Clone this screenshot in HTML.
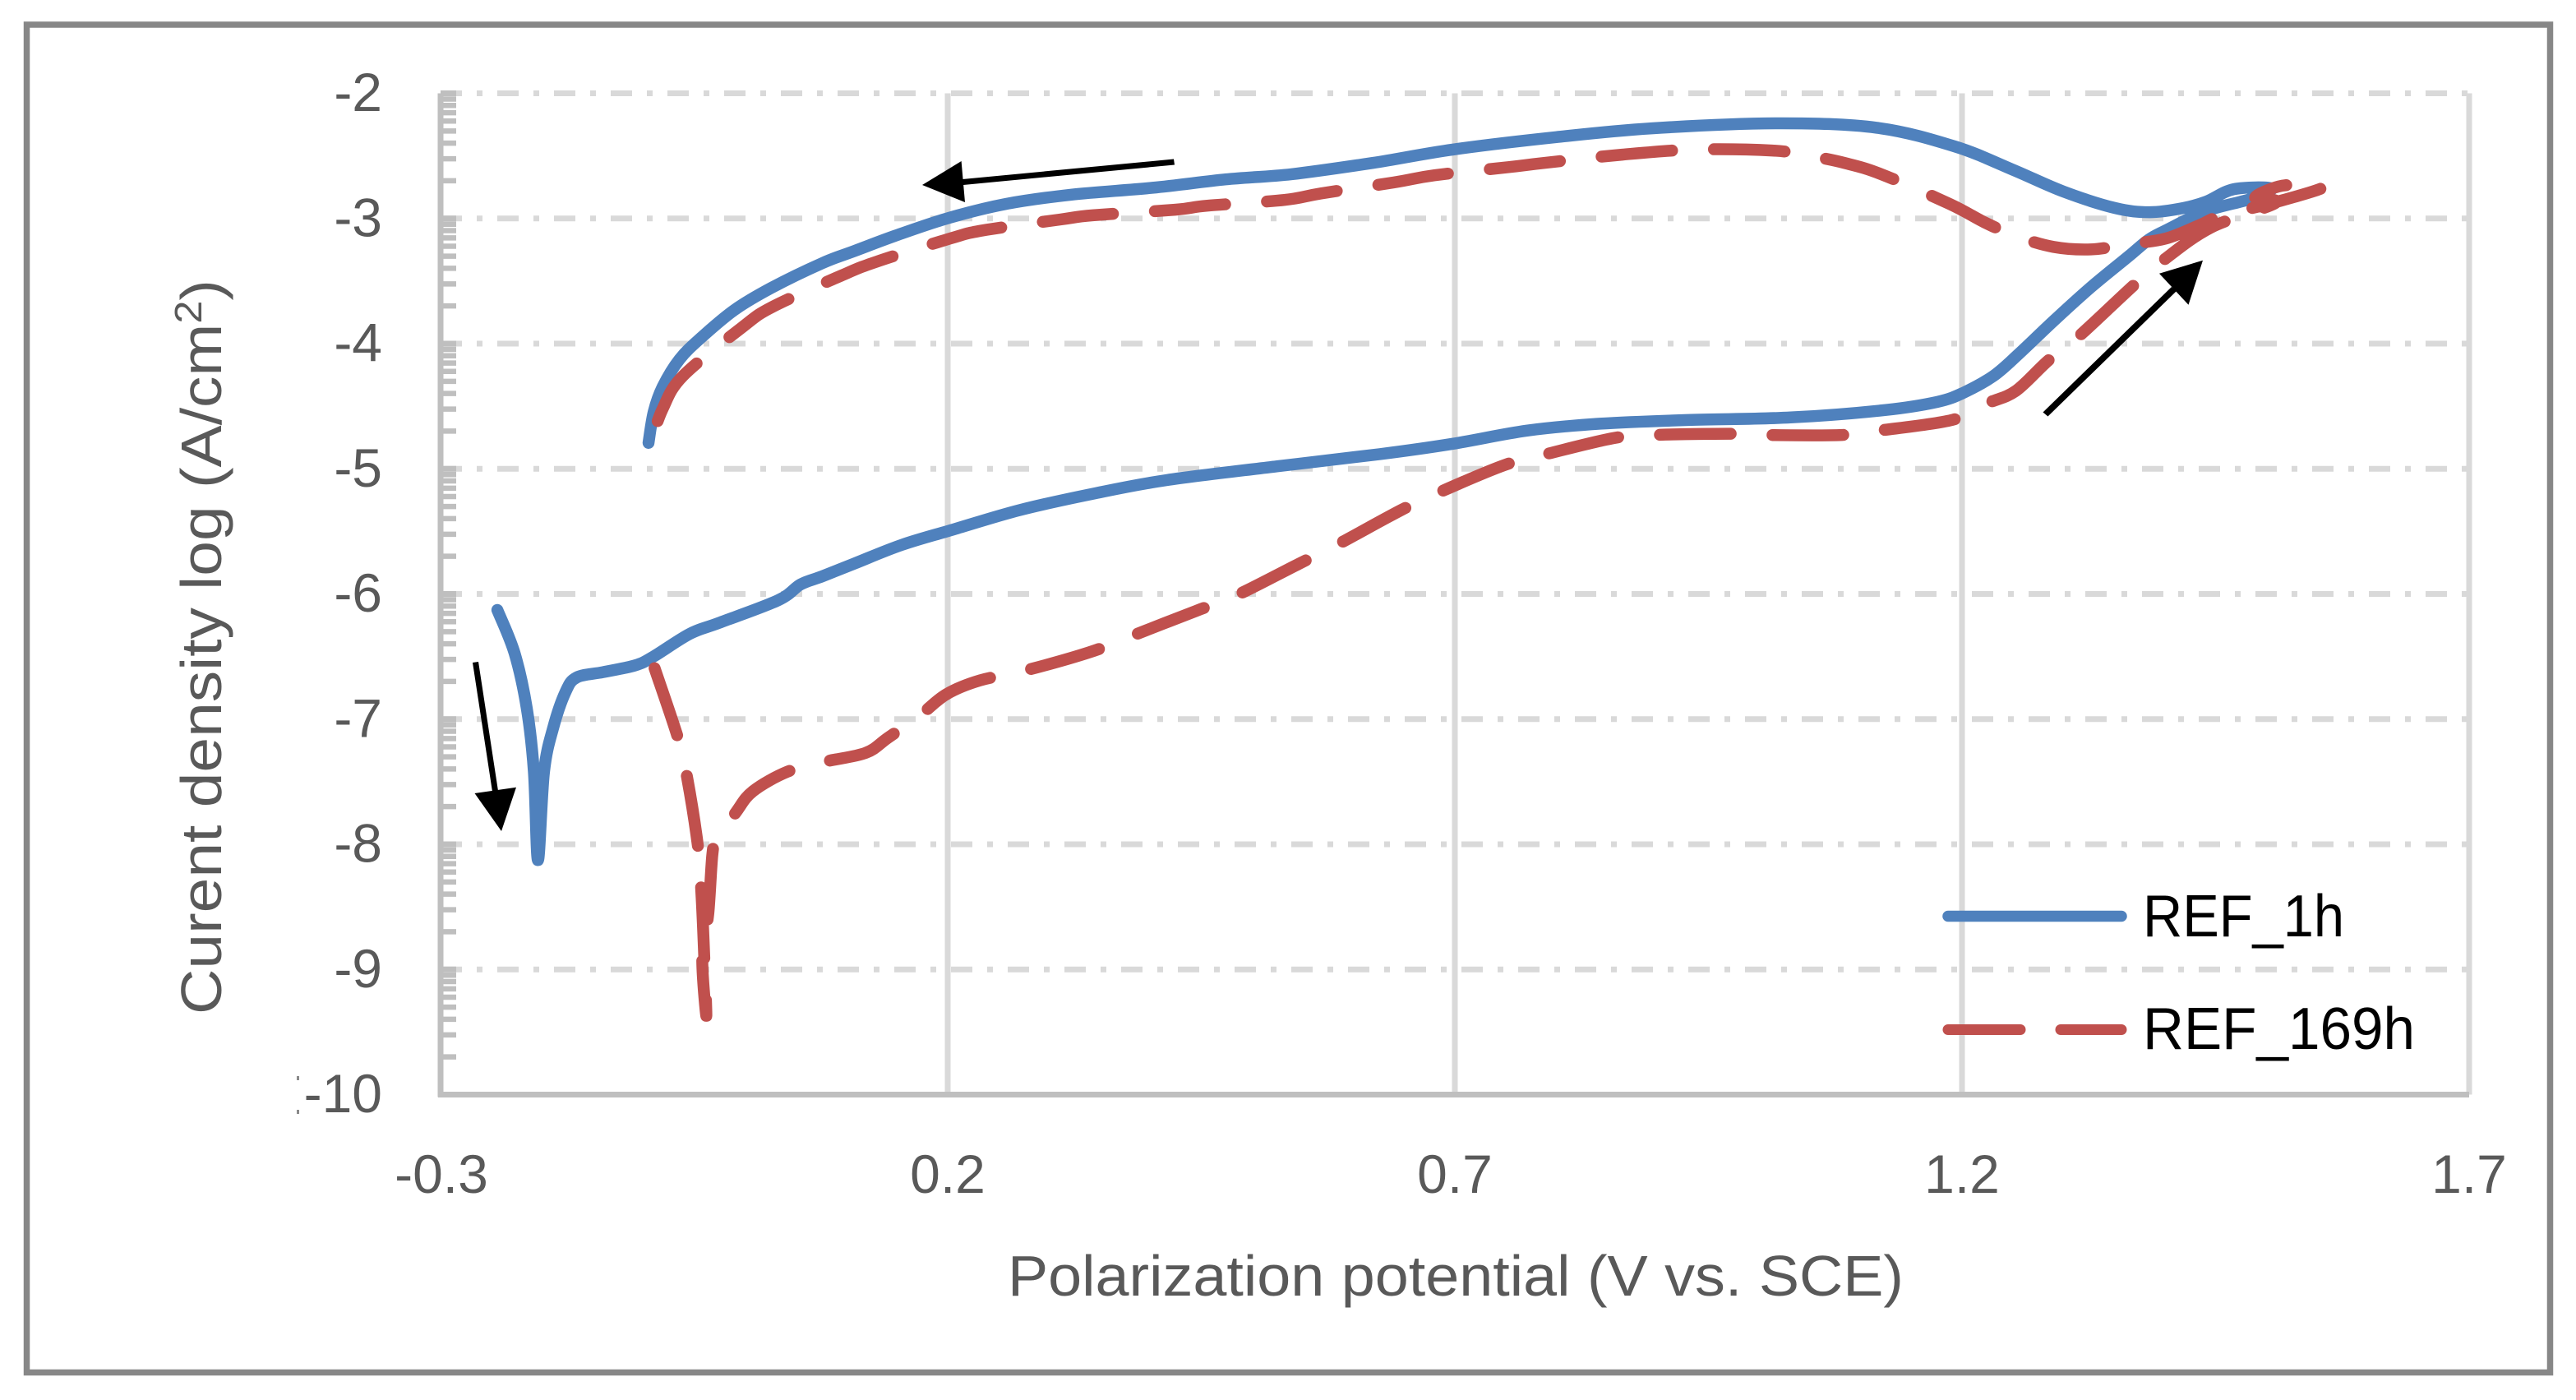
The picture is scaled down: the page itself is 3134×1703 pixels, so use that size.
<!DOCTYPE html>
<html lang="en">
<head>
<meta charset="utf-8">
<title>Polarization curves</title>
<style>
html,body{margin:0;padding:0;background:#fff;width:3134px;height:1703px;overflow:hidden}
svg{display:block}
text{font-family:"Liberation Sans",sans-serif}
</style>
</head>
<body>
<svg id="chart" xmlns="http://www.w3.org/2000/svg" width="3134" height="1703" viewBox="0 0 3134 1703">
  <rect x="0" y="0" width="3134" height="1703" fill="#ffffff"/>
  <rect x="32.5" y="30" width="3070" height="1639.5" fill="#ffffff" stroke="#878787" stroke-width="7.5"/>
  <g id="grid"></g>
  <g id="axes"></g>
  <g id="series"></g>
  <g fill="#000000" stroke="none">
    <g>
      <polygon points="1428,193.5 1429,200.5 1172,225 1171,218"/>
      <polygon points="1122,225 1169.6,196 1174,246"/>
    </g>
    <g>
      <polygon points="575,806 582,805 606,962 599,963"/>
      <polygon points="610,1011 577.5,965 628,957.7"/>
    </g>
    <g>
      <polygon points="2485.5,501.5 2491.5,506.5 2648,354 2642,349"/>
      <polygon points="2680,316.7 2627,332.7 2662.5,370.7"/>
    </g>
  </g>
  <text x="1226" y="1576" font-size="70" fill="#595959" textLength="1090" lengthAdjust="spacingAndGlyphs">Polarization potential (V vs. SCE)</text>
  <text transform="translate(269,1234) rotate(-90)" font-size="70" fill="#595959" textLength="894" lengthAdjust="spacingAndGlyphs">Curent density log (A/cm<tspan font-size="46" dy="-24">2</tspan><tspan dy="24">)</tspan></text>
  <g>
    <line x1="2370" y1="1114.5" x2="2581" y2="1114.5" stroke="#4f81bd" stroke-width="13.5" stroke-linecap="round"/>
    <text x="2607" y="1139" font-size="72" fill="#000000" textLength="245" lengthAdjust="spacingAndGlyphs">REF_1h</text>
    <line x1="2370" y1="1252.5" x2="2458" y2="1252.5" stroke="#c0504d" stroke-width="13" stroke-linecap="round"/>
    <line x1="2507" y1="1252.5" x2="2581" y2="1252.5" stroke="#c0504d" stroke-width="13" stroke-linecap="round"/>
    <text x="2607" y="1276" font-size="72" fill="#000000" textLength="331" lengthAdjust="spacingAndGlyphs">REF_169h</text>
  </g>
  <g fill="#8a8a8a">
    <rect x="361" y="1309" width="3" height="5"/>
    <rect x="361" y="1350" width="3" height="5"/>
  </g>
</svg>
<script>
const xTickValues = [-0.3, 0.2, 0.7, 1.2, 1.7];
const xTickLabels = ["-0.3", "0.2", "0.7", "1.2", "1.7"];
const yTickValues = [-2, -3, -4, -5, -6, -7, -8, -9, -10];
const yTickLabels = ["-2", "-3", "-4", "-5", "-6", "-7", "-8", "-9", "-10"];
const minorTickMultipliers = [2, 3, 4, 5, 6, 7, 8, 9];

const ref1hPotential = [-0.244,-0.227,-0.215,-0.208,-0.204,-0.198,-0.189,-0.177,-0.166,-0.14,-0.108,-0.09,-0.054,-0.025,0.033,0.055,0.076,0.108,0.155,0.206,0.271,0.343,0.416,0.525,0.626,0.698,0.771,0.843,0.93,1.031,1.125,1.176,1.202,1.231,1.256,1.292,1.328,1.364,1.384,1.401,1.441,1.485,1.505,1.468,1.441,1.418,1.385,1.351,1.3,1.25,1.193,1.116,1.017,0.894,0.80,0.698,0.619,0.539,0.474,0.402,0.322,0.2567,0.2005,0.148,0.108,0.076,0.0258,-0.0102,-0.0428,-0.0645,-0.081,-0.0898,-0.095];
const ref1hLogCurrent = [-6.128,-6.474,-6.914,-7.418,-8.126,-7.418,-7.07,-6.786,-6.668,-6.625,-6.57,-6.5,-6.317,-6.23,-6.05,-5.924,-5.86,-5.757,-5.607,-5.484,-5.33,-5.2,-5.09,-4.98,-4.883,-4.8,-4.695,-4.64,-4.61,-4.59,-4.53,-4.465,-4.39,-4.258,-4.082,-3.806,-3.543,-3.304,-3.17,-3.095,-2.94,-2.843,-2.76,-2.766,-2.865,-2.917,-2.95,-2.917,-2.785,-2.61,-2.425,-2.275,-2.24,-2.28,-2.35,-2.449,-2.556,-2.646,-2.688,-2.755,-2.81,-2.885,-2.997,-3.139,-3.26,-3.358,-3.556,-3.731,-3.95,-4.126,-4.345,-4.543,-4.793];

const ref169hPotential = [-0.089,-0.066,-0.057,-0.046,-0.043,-0.04,-0.038,-0.042,-0.036,-0.032,-0.028,-0.0084,0.008,0.042,0.079,0.119,0.141,0.174,0.199,0.232,0.275,0.34,0.38,0.445,0.485,0.546,0.582,0.647,0.684,0.749,0.789,0.857,0.897,0.97,1.005,1.082,1.118,1.19,1.225,1.253,1.285,1.314,1.369,1.398,1.445,1.509,1.489,1.512,1.535,1.556,1.509,1.455,1.435,1.401,1.364,1.327,1.29,1.253,1.222,1.188,1.121,1.084,1.048,1.013,0.937,0.865,0.788,0.753,0.68,0.64,0.568,0.532,0.456,0.424,0.343,0.311,0.235,0.2025,0.13,0.095,0.027,-0.003,-0.061,-0.081,-0.093];
const ref169hLogCurrent = [-6.593,-7.15,-7.464,-8.03,-8.36,-8.9,-9.37,-8.9,-8.55,-8.08,-7.98,-7.74,-7.576,-7.42,-7.34,-7.27,-7.15,-6.96,-6.8,-6.69,-6.615,-6.465,-6.34,-6.135,-6.01,-5.76,-5.615,-5.33,-5.19,-4.97,-4.885,-4.754,-4.73,-4.72,-4.73,-4.73,-4.695,-4.61,-4.477,-4.378,-4.135,-3.95,-3.536,-3.337,-3.074,-2.876,-2.832,-2.745,-2.733,-2.753,-2.87,-2.98,-3.05,-3.16,-3.205,-3.247,-3.227,-3.14,-3.03,-2.885,-2.648,-2.556,-2.497,-2.457,-2.449,-2.49,-2.556,-2.59,-2.655,-2.712,-2.8,-2.852,-2.898,-2.93,-2.975,-3.008,-3.095,-3.16,-3.345,-3.457,-3.707,-3.872,-4.258,-4.521,-4.793];

const SVGNS = "http://www.w3.org/2000/svg";
const plot = { left: 536, right: 3004, top: 113.5, bottom: 1331.5 };
function xScale(v) { return plot.left + (v - (-0.3)) / 2.0 * (plot.right - plot.left); }
function yScale(v) { return plot.top + (-2 - v) / 8 * (plot.bottom - plot.top); }

function make(tag, attrs, parent) {
  const el = document.createElementNS(SVGNS, tag);
  for (const k in attrs) el.setAttribute(k, attrs[k]);
  parent.appendChild(el);
  return el;
}

function smoothPath(xs, ys) {
  const p = xs.map((x, i) => [xScale(x), yScale(ys[i])]);
  let d = "M" + p[0][0].toFixed(1) + " " + p[0][1].toFixed(1);
  for (let i = 0; i < p.length - 1; i++) {
    const a = p[Math.max(i - 1, 0)], b = p[i], c = p[i + 1], e = p[Math.min(i + 2, p.length - 1)];
    const c1x = b[0] + (c[0] - a[0]) / 6, c1y = b[1] + (c[1] - a[1]) / 6;
    const c2x = c[0] - (e[0] - b[0]) / 6, c2y = c[1] - (e[1] - b[1]) / 6;
    d += "C" + c1x.toFixed(1) + " " + c1y.toFixed(1) + " " + c2x.toFixed(1) + " " + c2y.toFixed(1) + " " + c[0].toFixed(1) + " " + c[1].toFixed(1);
  }
  return d;
}

const gridG = document.getElementById("grid");
const axesG = document.getElementById("axes");
const seriesG = document.getElementById("series");

yTickValues.forEach(function (v) {
  if (v === -10) return;
  const l = make("line", { x1: plot.left, x2: plot.right, y1: yScale(v), y2: yScale(v), stroke: "#d9d9d9", "stroke-width": 7, "stroke-dasharray": "26 18 7 18" }, gridG);
  
  
});
xTickValues.forEach(function (v) {
  if (v === -0.3) return;
  const l = make("line", { x1: xScale(v), x2: xScale(v), y1: plot.top, y2: plot.bottom, stroke: "#d9d9d9", "stroke-width": 7 }, gridG);
  
  
});

const yAxisLine = make("line", { x1: plot.left, x2: plot.left, y1: plot.top, y2: plot.bottom + 3, stroke: "#bfbfbf", "stroke-width": 7 }, axesG);


const xAxisLine = make("line", { x1: plot.left - 3, x2: plot.right, y1: plot.bottom, y2: plot.bottom, stroke: "#bfbfbf", "stroke-width": 7 }, axesG);



yTickValues.forEach(function (v, i) {
  if (v !== -10) {
    const major = make("line", { x1: plot.left, x2: plot.left + 19, y1: yScale(v), y2: yScale(v), stroke: "#bfbfbf", "stroke-width": 7 }, axesG);
    
    
    minorTickMultipliers.forEach(function (k) {
      const mv = v - 1 + Math.log10(k);
      const minor = make("line", { x1: plot.left, x2: plot.left + 19, y1: yScale(mv), y2: yScale(mv), stroke: "#bfbfbf", "stroke-width": 6.5 }, axesG);
      
      
    });
  }
  const t = make("text", { x: 465, y: yScale(v) + 21.5, "text-anchor": "end", "font-size": 66, fill: "#595959" }, axesG);
  
  
  t.textContent = yTickLabels[i];
});

xTickValues.forEach(function (v, i) {
  const t = make("text", { x: xScale(v) - (i === 0 ? -1 : 0), y: 1451, "text-anchor": "middle", "font-size": 66, fill: "#595959" }, axesG);
  
  
  t.textContent = xTickLabels[i];
});

const blueLine = make("path", { d: smoothPath(ref1hPotential, ref1hLogCurrent), fill: "none", stroke: "#4f81bd", "stroke-width": 14.5, "stroke-linecap": "round", "stroke-linejoin": "round" }, seriesG);



const redLine = make("path", { d: smoothPath(ref169hPotential, ref169hLogCurrent), fill: "none", stroke: "#c0504d", "stroke-width": 14.5, "stroke-linecap": "round", "stroke-linejoin": "round", "stroke-dasharray": "86 51" }, seriesG);


</script>
</body>
</html>
